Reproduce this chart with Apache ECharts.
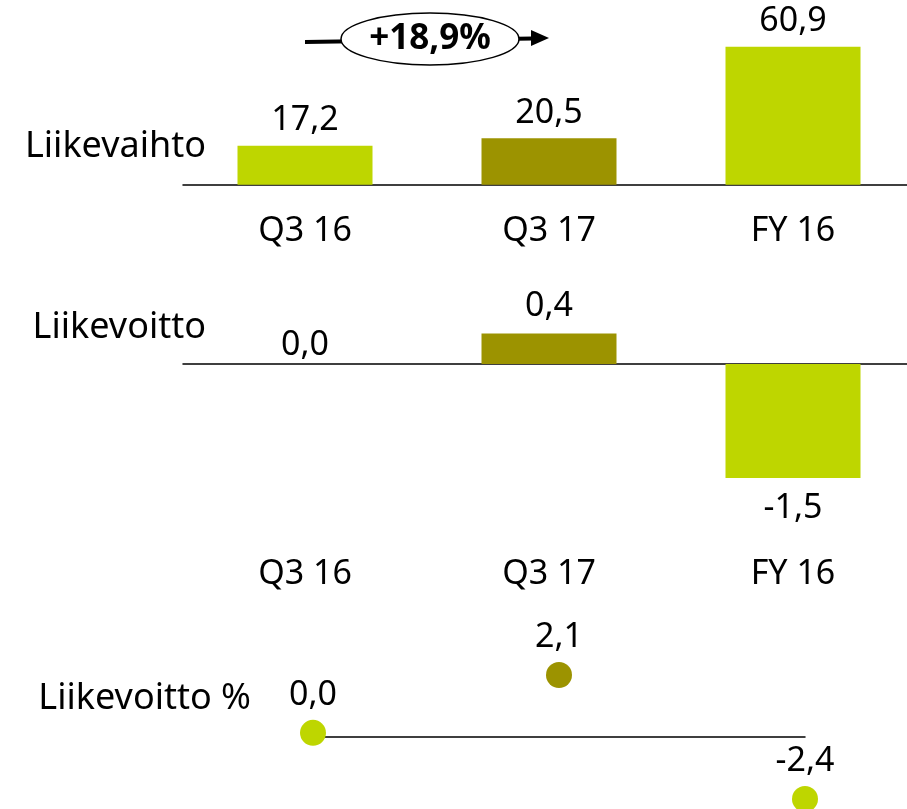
<!DOCTYPE html>
<html><head><meta charset="utf-8">
<script src="https://cdn.jsdelivr.net/npm/echarts@6/dist/echarts.min.js"></script>
<style>html,body{margin:0;padding:0;background:#fff}#c{width:907px;height:809px}</style>
</head><body><div id="c"></div>
<script>
const categories = ['Q3 16', 'Q3 17', 'FY 16'];
const liikevaihto = [17.2, 20.5, 60.9];
const liikevoitto = [0.0, 0.4, -1.5];
const liikevoittoPct = [0.0, 2.1, -2.4];
const rowLabels = ['Liikevaihto', 'Liikevoitto', 'Liikevoitto %'];
const growthLabel = '+18,9%';

const LIME = '#BED600', OLIVE = '#9C9300';
const barColors = [LIME, OLIVE, LIME];
const FONT = '"Noto Sans", sans-serif';
const NUM_SIZE = 34;
const fmt = v => v.toFixed(1).replace('.', ',');

const chart = echarts.init(document.getElementById('c'), null, {renderer: 'canvas'});

function items(vals, dPos, dZero, dNeg) {
  return vals.map((v, i) => ({
    value: v,
    itemStyle: {color: barColors[i]},
    label: {position: v < 0 ? 'bottom' : 'top', distance: v < 0 ? dNeg : (v === 0 ? dZero : dPos)}
  }));
}
const labelBase = {show: true, color: '#000', fontFamily: FONT, fontSize: NUM_SIZE, formatter: p => fmt(p.value)};
const axisLineStyle = {color: '#000', width: 1.5};

chart.setOption({
  animation: false,
  backgroundColor: '#fff',
  grid: [
    {left: 183, width: 732, top: 26, height: 170, outerBoundsMode: 'none', containLabel: false},
    {left: 183, width: 732, top: 288, height: 228, outerBoundsMode: 'none', containLabel: false},
    {left: 313, right: 102, top: 664, height: 73, outerBoundsMode: 'none', containLabel: false}
  ],
  xAxis: [
    {gridIndex: 0, type: 'category', data: categories, axisLine: {onZero: true, lineStyle: axisLineStyle}, axisTick: {show: false},
     axisLabel: {margin: 18, fontSize: NUM_SIZE, fontFamily: FONT, color: '#000'}},
    {gridIndex: 1, type: 'category', data: categories, axisLine: {onZero: true, lineStyle: axisLineStyle}, axisTick: {show: false},
     axisLabel: {margin: 41, fontSize: NUM_SIZE, fontFamily: FONT, color: '#000'}},
    {gridIndex: 2, type: 'category', data: categories, boundaryGap: false, axisLine: {onZero: false, lineStyle: axisLineStyle}, axisTick: {show: false},
     axisLabel: {show: false}}
  ],
  yAxis: [
    {gridIndex: 0, type: 'value', min: -5, max: 70, show: false},
    {gridIndex: 1, type: 'value', min: -2, max: 1, show: false},
    {gridIndex: 2, type: 'value', min: -0.15, max: 2.5, show: false}
  ],
  series: [
    {type: 'bar', xAxisIndex: 0, yAxisIndex: 0, barWidth: 135, data: items(liikevaihto, 8, 8, 8),
     label: Object.assign({}, labelBase)},
    {type: 'bar', xAxisIndex: 1, yAxisIndex: 1, barWidth: 135, data: items(liikevoitto, 10, 2, 13),
     label: Object.assign({}, labelBase)},
    {type: 'scatter', xAxisIndex: 2, yAxisIndex: 2, symbolSize: 26, clip: false,
     data: liikevoittoPct.map((v, i) => ({value: v, itemStyle: {color: barColors[i], opacity: 1}})),
     label: Object.assign({}, labelBase, {position: 'top', distance: 8})}
  ]
});

const x0 = chart.convertToPixel({xAxisIndex: 0}, categories[0]);
const x1 = chart.convertToPixel({xAxisIndex: 0}, categories[1]);
const midX = (x0 + x1) / 2;

function rowText(t, right, cy) {
  return {type: 'text', x: right, y: cy, z: 10,
    style: {text: t, fill: '#000', font: '36px ' + FONT, fontSize: 36, fontFamily: FONT,
      align: 'right', textAlign: 'right', verticalAlign: 'middle', textVerticalAlign: 'middle'}};
}

chart.setOption({
  graphic: [
    rowText(rowLabels[0], 206, 147),
    rowText(rowLabels[1], 206, 328),
    rowText(rowLabels[2], 251, 699),
    {type: 'line', z: 5, shape: {x1: x0, y1: 42, x2: x1 - 16, y2: 38.5}, style: {stroke: '#000', lineWidth: 4}},
    {type: 'polygon', z: 5, shape: {points: [[x1 - 18, 30], [x1, 38], [x1 - 18, 46]]}, style: {fill: '#000'}},
    {type: 'ellipse', z: 6, shape: {cx: midX + 3, cy: 39, rx: 89, ry: 26}, style: {fill: '#fff', stroke: '#000', lineWidth: 1.5}},
    {type: 'text', z: 7, x: midX + 3, y: 39,
     style: {text: growthLabel, fill: '#000', font: 'bold 35px ' + FONT, fontSize: 35, fontWeight: 'bold', fontFamily: FONT,
       align: 'center', textAlign: 'center', verticalAlign: 'middle', textVerticalAlign: 'middle'}}
  ]
});
</script>
</body></html>
